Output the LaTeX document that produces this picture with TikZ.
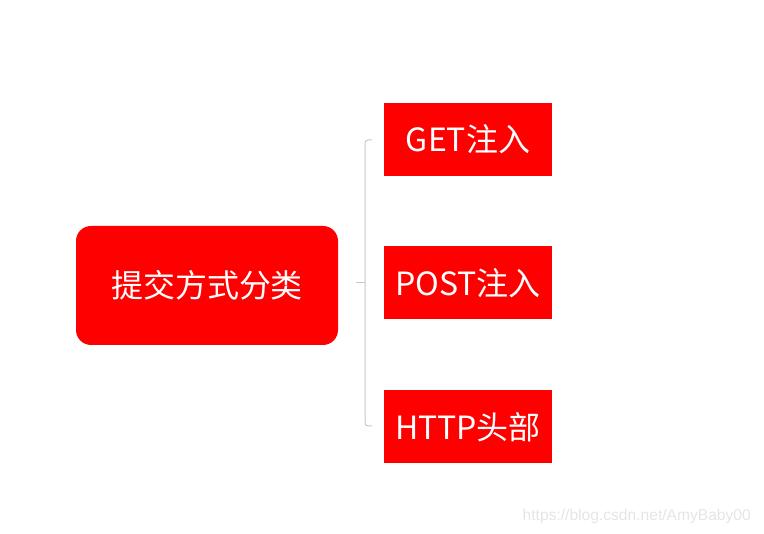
\documentclass[tikz,border=0pt]{standalone}
\usepackage{fontspec}
\setmainfont{Noto Sans CJK SC}
\newfontfamily\wmfont{Liberation Sans}
\begin{document}
\begin{tikzpicture}[x=1pt,y=-1pt,
  box/.style={fill=red, text=white, inner sep=0pt, font=\fontsize{32}{36}\selectfont},
  rootbox/.style={box, rounded corners=15pt},
  leafbox/.style={box, minimum width=168pt, minimum height=73pt},
  brace/.style={draw=black!22, line width=1pt}
]
\useasboundingbox (0,0) rectangle (764,534);
\node[rootbox, minimum width=262pt, minimum height=119pt] (root) at (207,285.5) {提交方式分类};
\node[leafbox] (get) at (468,139.5) {GET注入};
\node[leafbox] (post) at (468,283) {POST注入};
\node[leafbox] (http) at (468,427) {HTTP头部};
\coordinate (stub) at (356,283);
\coordinate (mid) at (365,283);
\coordinate (topend) at (372,140);
\coordinate (botend) at (372,426);
\draw[brace] (stub) -- (mid);
\draw[brace, rounded corners=3pt] (topend) -| (mid) |- (botend);
\node[text=black!10, font=\wmfont\fontsize{15.6}{18}\selectfont, anchor=east, inner sep=0pt] (wm) at (751,516) {https://blog.csdn.net/AmyBaby00};
\end{tikzpicture}
\end{document}
